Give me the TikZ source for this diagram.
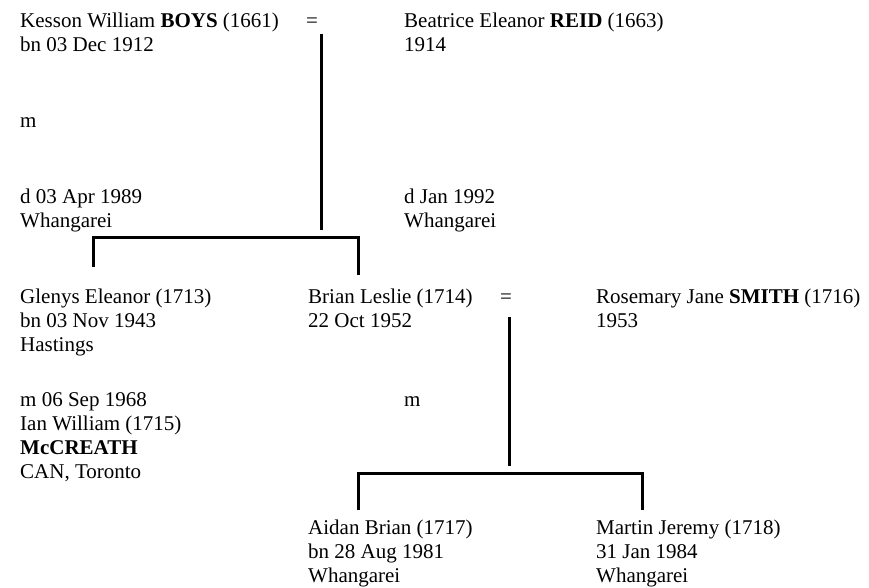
\documentclass[tikz,border=0pt]{standalone}
\usepackage{fontspec}
\setmainfont{Liberation Serif}
\begin{document}
\begin{tikzpicture}[x=1pt,y=-1pt,
  txt/.style={anchor=base west,inner sep=0pt,align=left,font=\fontsize{21}{24}\selectfont},
  link/.style={line width=3pt,line cap=butt}]
\useasboundingbox (0,0) rectangle (869,587);
% generation 1 (multi-line nodes are placed by the baseline of their last line)
\node[txt] (kesson) at (20,51) {Kesson William \textbf{BOYS} (1661)\\bn 03 Dec 1912};
\node[txt] (eq1) at (306,27) {=};
\node[txt] (beatrice) at (404,51) {Beatrice Eleanor \textbf{REID} (1663)\\1914};
\node[txt] (m1) at (20,127) {m};
\node[txt] (kdeath) at (20,227) {d 03 Apr 1989\\Whangarei};
\node[txt] (bdeath) at (404,227) {d Jan 1992\\Whangarei};
% generation 2
\node[txt] (glenys) at (20,351) {Glenys Eleanor (1713)\\bn 03 Nov 1943\\Hastings};
\node[txt] (gmar) at (20,478) {m 06 Sep 1968\\Ian William (1715)\\\textbf{McCREATH}\\CAN, Toronto};
\node[txt] (brian) at (308,327) {Brian Leslie (1714)\\22 Oct 1952};
\node[txt] (eq2) at (500,303) {=};
\node[txt] (rosemary) at (596,327) {Rosemary Jane \textbf{SMITH} (1716)\\1953};
\node[txt] (m2) at (404,406) {m};
% generation 3
\node[txt] (aidan) at (308,582) {Aidan Brian (1717)\\bn 28 Aug 1981\\Whangarei};
\node[txt] (martin) at (596,582) {Martin Jeremy (1718)\\31 Jan 1984\\Whangarei};
% connectors
\coordinate (u1a) at (321,34);
\coordinate (u1b) at (321,230);
\coordinate (bar1l) at (93,237);
\coordinate (bar1r) at (358,237);
\coordinate (c1a) at (93,267);
\coordinate (c1b) at (358,275);
\draw[link] (u1a) -- (u1b);
\draw[link] (c1a) -- (bar1l) -- (bar1r) -- (c1b);
\coordinate (u2a) at (509,317);
\coordinate (u2b) at (509,466);
\coordinate (bar2l) at (358,473);
\coordinate (bar2r) at (642,473);
\coordinate (c2a) at (358,510);
\coordinate (c2b) at (642,510);
\draw[link] (u2a) -- (u2b);
\draw[link] (c2a) -- (bar2l) -- (bar2r) -- (c2b);
\end{tikzpicture}
\end{document}
